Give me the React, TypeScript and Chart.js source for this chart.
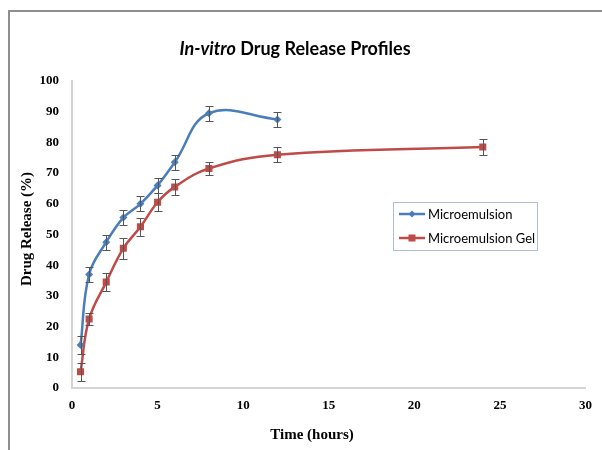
import React, { useEffect, useRef } from "react";
import { Chart, registerables } from "chart.js";

Chart.register(...registerables);

const timeHours = [0.5, 1, 2, 3, 4, 5, 6, 8, 12];
const microemulsion = [14, 37, 47.5, 55.5, 60, 66, 73.5, 89.5, 87.5];
const microemulsionErr = [3, 2.5, 2.5, 2.5, 2.5, 2.5, 2.5, 2.5, 2.5];

const timeHoursGel = [0.5, 1, 2, 3, 4, 5, 6, 8, 12, 24];
const microemulsionGel = [5.3, 22.5, 34.5, 45.5, 52.5, 60.5, 65.5, 71.5, 76, 78.5];
const microemulsionGelErr = [3, 2, 3, 3.5, 3, 3, 2.5, 2, 2.5, 2.5];

const seriesNames = ["Microemulsion", "Microemulsion Gel"];
const titleItalic = "In-vitro";
const titleRest = " Drug Release Profiles";
const xTitle = "Time (hours)";
const yTitle = "Drug Release (%)";

const BLUE = "#4a7ebb";
const RED = "#be4b48";
const errs = [microemulsionErr, microemulsionGelErr];

const errorBarPlugin = {
  id: "errorBars",
  afterDatasetsDraw(chart: any) {
    const ctx = chart.ctx;
    const ys = chart.scales.y;
    ctx.save();
    ctx.strokeStyle = "#555555";
    ctx.lineWidth = 1;
    chart.data.datasets.forEach((ds: any, di: number) => {
      const meta = chart.getDatasetMeta(di);
      meta.data.forEach((pt: any, i: number) => {
        const v = ds.data[i].y;
        const e = errs[di][i];
        const top = Math.round(ys.getPixelForValue(v + e)) + 0.5;
        const bot = Math.round(ys.getPixelForValue(v - e)) + 0.5;
        const x = Math.round(pt.x) + 0.5;
        ctx.beginPath();
        ctx.moveTo(x, top);
        ctx.lineTo(x, bot);
        ctx.moveTo(x - 4, top);
        ctx.lineTo(x + 4, top);
        ctx.moveTo(x - 4, bot);
        ctx.lineTo(x + 4, bot);
        ctx.stroke();
      });
    });
    ctx.restore();
  },
};

const textPlugin = {
  id: "texts",
  afterDraw(chart: any) {
    const ctx = chart.ctx;
    ctx.save();
    // Title
    ctx.fillStyle = "#000000";
    ctx.textBaseline = "alphabetic";
    const fItal = "italic bold 18px Lato";
    const fBold = "bold 18px Lato";
    ctx.font = fItal;
    const w1 = ctx.measureText(titleItalic).width;
    ctx.font = fBold;
    const w2 = ctx.measureText(titleRest).width;
    const startX = 295 - (w1 + w2) / 2;
    ctx.textAlign = "left";
    ctx.font = fItal;
    ctx.fillText(titleItalic, startX, 55);
    ctx.font = fBold;
    ctx.fillText(titleRest, startX + w1, 55);

    // Axis titles
    ctx.font = "bold 15px 'Liberation Serif'";
    ctx.textAlign = "center";
    ctx.textBaseline = "middle";
    ctx.fillText(xTitle, 312, 435);
    ctx.save();
    ctx.translate(27, 229);
    ctx.rotate(-Math.PI / 2);
    ctx.fillText(yTitle, 0, 0);
    ctx.restore();

    // Legend
    ctx.strokeStyle = "#aebfd6";
    ctx.lineWidth = 1;
    ctx.strokeRect(393.5, 202.5, 144, 48);
    const rows = [214, 238];
    ctx.font = "13px Lato";
    ctx.textAlign = "left";
    ctx.textBaseline = "middle";
    rows.forEach((y, i) => {
      const col = i === 0 ? BLUE : RED;
      ctx.strokeStyle = col;
      ctx.lineWidth = 2.5;
      ctx.beginPath();
      ctx.moveTo(399, y);
      ctx.lineTo(425, y);
      ctx.stroke();
      ctx.fillStyle = col;
      if (i === 0) {
        ctx.beginPath();
        ctx.moveTo(412, y - 3.5);
        ctx.lineTo(415.5, y);
        ctx.lineTo(412, y + 3.5);
        ctx.lineTo(408.5, y);
        ctx.closePath();
        ctx.fill();
      } else {
        ctx.fillRect(408.5, y - 3.5, 7, 7);
      }
      ctx.fillStyle = "#000000";
      ctx.fillText(seriesNames[i], 428, y + 1);
    });
    ctx.restore();
  },
};

export default function App() {
  const ref = useRef<HTMLCanvasElement>(null);
  useEffect(() => {
    if (!ref.current) return;
    const chart = new Chart(ref.current, {
      type: "scatter",
      data: {
        datasets: [
          {
            label: seriesNames[0],
            data: timeHours.map((x, i) => ({ x, y: microemulsion[i] })),
            showLine: true,
            borderColor: BLUE,
            backgroundColor: BLUE,
            borderWidth: 2.5,
            tension: 0.4,
            pointStyle: "rectRot",
            pointRadius: 4,
            pointBorderWidth: 0,
          },
          {
            label: seriesNames[1],
            data: timeHoursGel.map((x, i) => ({ x, y: microemulsionGel[i] })),
            showLine: true,
            borderColor: RED,
            backgroundColor: RED,
            borderWidth: 2.5,
            tension: 0.4,
            pointStyle: "rect",
            pointRadius: 5,
            pointBorderWidth: 0,
          },
        ],
      },
      options: {
        animation: false,
        responsive: false,
        layout: { padding: { left: 0, right: 14, top: 81, bottom: 0 } },
        plugins: {
          legend: { display: false },
          title: { display: false },
          tooltip: { enabled: false },
        },
        scales: {
          x: {
            type: "linear",
            min: 0,
            max: 30,
            ticks: {
              stepSize: 5,
              color: "#000000",
              padding: 10,
              font: { family: "'Liberation Serif'", size: 13, weight: "bold" },
            },
            grid: { display: false, drawTicks: false },
            border: { color: "#d4d4d4", width: 2 },
            afterFit: (s: any) => {
              s.height = 62;
            },
          },
          y: {
            min: 0,
            max: 100,
            ticks: {
              stepSize: 10,
              color: "#000000",
              padding: 13,
              font: { family: "'Liberation Serif'", size: 13, weight: "bold" },
            },
            grid: { display: false, drawTicks: false },
            border: { color: "#d4d4d4", width: 2 },
            afterFit: (s: any) => {
              s.width = 72;
            },
          },
        },
      },
      plugins: [errorBarPlugin, textPlugin],
    });
    return () => chart.destroy();
  }, []);

  return (
    <div style={{ position: "fixed", left: 0, top: 0, width: 602, height: 450, background: "#ffffff" }}>
      <div
        style={{
          position: "absolute",
          left: 8,
          top: 10,
          width: 700,
          height: 600,
          borderLeft: "2px solid #8e8e8e",
          borderTop: "2px solid #8e8e8e",
        }}
      />
      <canvas ref={ref} width={602} height={450} style={{ position: "absolute", left: 0, top: 0 }} />
    </div>
  );
}
